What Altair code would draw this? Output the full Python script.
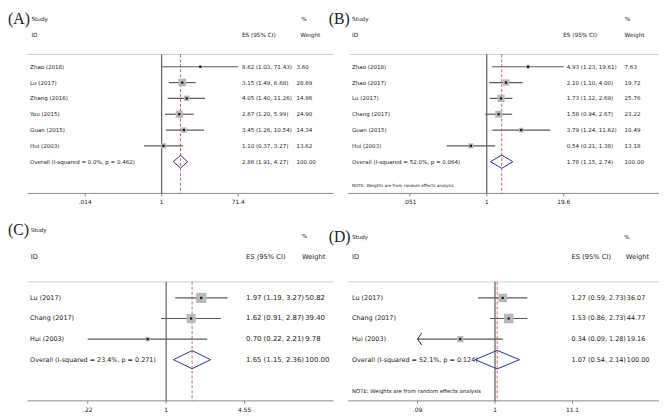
import math
import altair as alt
import pandas as pd

# ---------------- data ----------------
A_study = ["Zhao (2018)", "Lu (2017)", "Zhang (2016)", "You (2015)", "Guan (2015)", "Hui (2003)"]
A_es = [8.62, 3.15, 4.05, 2.67, 3.45, 1.10]
A_lo = [1.03, 1.49, 1.40, 1.20, 1.26, 0.37]
A_hi = [71.43, 6.68, 11.26, 5.99, 10.54, 3.27]
A_w = [3.60, 28.69, 14.86, 24.90, 14.34, 13.62]
A_overall = [2.86, 1.91, 4.27]
A_het = "Overall  (I-squared = 0.0%, p = 0.462)"
A_ticks = [0.014, 1, 71.4]
A_tick_labels = [".014", "1", "71.4"]
A_truncated = []

B_study = ["Zhao (2018)", "Zhao (2017)", "Lu (2017)", "Chang (2017)", "Guan (2015)", "Hui (2003)"]
B_es = [4.93, 2.10, 1.73, 1.58, 3.79, 0.54]
B_lo = [1.23, 1.10, 1.12, 0.94, 1.24, 0.21]
B_hi = [19.61, 4.00, 2.69, 2.67, 11.62, 1.38]
B_w = [7.63, 19.72, 25.76, 23.22, 10.49, 13.18]
B_overall = [1.78, 1.15, 2.74]
B_het = "Overall  (I-squared = 52.0%, p = 0.064)"
B_ticks = [0.051, 1, 19.6]
B_tick_labels = [".051", "1", "19.6"]
B_truncated = []

C_study = ["Lu (2017)", "Chang (2017)", "Hui (2003)"]
C_es = [1.97, 1.62, 0.70]
C_lo = [1.19, 0.91, 0.22]
C_hi = [3.27, 2.87, 2.21]
C_w = [50.82, 39.40, 9.78]
C_overall = [1.65, 1.15, 2.36]
C_het = "Overall  (I-squared = 23.4%, p = 0.271)"
C_ticks = [0.22, 1, 4.55]
C_tick_labels = [".22", "1", "4.55"]
C_truncated = []

D_study = ["Lu (2017)", "Chang (2017)", "Hui (2003)"]
D_es = [1.27, 1.53, 0.34]
D_lo = [0.59, 0.86, 0.09]
D_hi = [2.73, 2.73, 1.28]
D_w = [36.07, 44.77, 19.16]
D_overall = [1.07, 0.54, 2.14]
D_het = "Overall  (I-squared = 52.1%, p = 0.124)"
D_ticks = [0.09, 1, 11.1]
D_tick_labels = [".09", "1", "11.1"]
D_truncated = ["Hui (2003)"]   # CI runs past the lower axis limit (drawn with an arrow)

NOTE = "NOTE: Weights are from random effects analysis"

# ---------------- layout / style ----------------
SX, SY = 0.988, 0.978
SANS = "DejaVu Sans"
SERIF = "Liberation Serif"
TXT = "#222222"


def px(v):
    return round(v * SX, 2)


def py(v):
    return round(v * SY, 2)


LA = dict(tag="(A)", tag_x=0, tag_y=8, study_x=24, study_y=7.7, pct_x=301, pct_y=7.7,
          id_x=24, hdr_y=24, es_x=240, wt_x=300, sep_x=20, sep_y=44.3, axis_x=20, axis_y=188.3,
          tick_y=197, x_lo=79.2, x_hi=236.2, row0=57, drow=16.4, lab_x=22.7, val_x=240, wval_x=296,
          note_x=None, note_y=None, fs_lab=5.6, fs_val=5.6, fs_hdr=5.8, fs_top=5.8, fs_note=4.25,
          fs_tick=5.9, box_k=2.1, dia_h=0.40, ph=210)
LB = dict(tag="(B)", tag_x=-5, tag_y=8, study_x=19, study_y=7.7, pct_x=299, pct_y=7.7,
          id_x=19, hdr_y=24, es_x=235.7, wt_x=298.7, sep_x=17, sep_y=44.3, axis_x=15, axis_y=188.3,
          tick_y=197, x_lo=78.4, x_hi=236.2, row0=57, drow=16.4, lab_x=19, val_x=239.3, wval_x=298.7,
          note_x=19, note_y=181, fs_lab=5.6, fs_val=5.6, fs_hdr=5.8, fs_top=5.8, fs_note=4.25,
          fs_tick=5.9, box_k=1.0, dia_h=0.42, ph=210)
LC = dict(tag="(C)", tag_x=0, tag_y=15.7, study_x=23.3, study_y=15.7, pct_x=301.7, pct_y=21.7,
          id_x=23.3, hdr_y=43.3, es_x=244.3, wt_x=301.7, sep_x=20, sep_y=69.3, axis_x=20, axis_y=192.7,
          tick_y=201.7, x_lo=81.8, x_hi=242.8, row0=86, drow=21.33, lab_x=22.7, val_x=244.3, wval_x=305,
          note_x=None, note_y=None, fs_lab=6.5, fs_val=7.0, fs_hdr=6.8, fs_top=5.6, fs_note=5.4,
          fs_tick=6.0, box_k=0.55, dia_h=0.44, ph=206)
LD = dict(tag="(D)", tag_x=-5, tag_y=23.3, study_x=19, study_y=23.3, pct_x=298.3, pct_y=23.3,
          id_x=19, hdr_y=43.3, es_x=244.3, wt_x=300, sep_x=15, sep_y=69.3, axis_x=15, axis_y=192.7,
          tick_y=201.7, x_lo=86.2, x_hi=245.2, row0=86, drow=21.33, lab_x=19, val_x=244.3, wval_x=301,
          note_x=19, note_y=182.7, fs_lab=6.5, fs_val=6.55, fs_hdr=6.8, fs_top=5.6, fs_note=5.4,
          fs_tick=6.0, box_k=0.33, dia_h=0.45, ph=206)

ONE = pd.DataFrame({"k": [0]})


def txt(s, x, y, size, font=SANS, align="left"):
    return alt.Chart(pd.DataFrame({"t": [s]})).mark_text(
        align=align, baseline="middle", fontSize=size, font=font, color=TXT
    ).encode(x=alt.value(px(x)), y=alt.value(py(y)), text="t:N")


def hrule(x0, x1, y, color):
    return alt.Chart(ONE).mark_rule(color=color, strokeWidth=1).encode(
        x=alt.value(px(x0)), x2=alt.value(px(x1)), y=alt.value(py(y)))


def panel(study, es, lo, hi, w, overall, het, ticks, tick_labels, truncated, note, L):
    n = len(study)
    W = px(334)
    H = py(L["ph"])
    # log-x domain so that the end ticks land on the wanted pixels of a [0, W] range
    p0, p1 = px(L["x_lo"]), px(L["x_hi"])
    l0, l1 = math.log(ticks[0]), math.log(ticks[-1])
    k = (l1 - l0) / (p1 - p0)
    xs = alt.Scale(type="log", domain=[math.exp(l0 - p0 * k), math.exp(l1 + (W - p1) * k)], nice=False)
    # row index -> pixel, top to bottom
    r0, dr = py(L["row0"]), py(L["drow"])
    ys = alt.Scale(domain=[-r0 / dr, (H - r0) / dr], reverse=True, nice=False, zero=False)

    def X(f):
        return alt.X(f, type="quantitative", scale=xs, axis=None)

    Y = alt.Y("row:Q", scale=ys, axis=None)

    st = pd.DataFrame({"row": list(range(n)), "study": study, "es": es, "lo": lo, "hi": hi, "w": w})
    rows = pd.DataFrame({
        "row": list(range(n + 1)),
        "label": study + [het],
        "val": [f"{e:.2f} ({a:.2f}, {b:.2f})" for e, a, b in zip(es + [overall[0]], lo + [overall[1]], hi + [overall[2]])],
        "wt": [f"{v:.2f}" for v in w] + ["100.00"],
    })
    tk = pd.DataFrame({"t": ticks, "lab": tick_labels})
    ov = pd.DataFrame({"es": [overall[0]]})
    h = L["dia_h"]
    dia = pd.DataFrame({
        "x": [overall[1], overall[0], overall[2], overall[0], overall[1]],
        "row": [n, n - h, n, n + h, n],
        "i": list(range(5)),
    })

    layers = [
        hrule(L["sep_x"], 334, L["sep_y"], "#d0d0d0"),
        hrule(L["axis_x"], 334, L["axis_y"], "#8a8a8a"),
        alt.Chart(tk).mark_rule(color="#8a8a8a", strokeWidth=1).encode(
            x=X("t"), y=alt.value(py(L["axis_y"])), y2=alt.value(py(L["axis_y"]) + 3)),
        alt.Chart(tk).mark_text(fontSize=L["fs_tick"], font=SANS, color=TXT, baseline="middle").encode(
            x=X("t"), y=alt.value(py(L["tick_y"])), text="lab:N"),
        alt.Chart(pd.DataFrame({"v": [1]})).mark_rule(color="#3a3a3a", strokeWidth=1).encode(
            x=X("v"), y=alt.value(py(L["sep_y"])), y2=alt.value(py(L["axis_y"]))),
        alt.Chart(ov).mark_rule(color="#cc3b3b", strokeWidth=0.8, strokeDash=[3, 2]).encode(
            x=X("es"), y=alt.value(py(L["sep_y"])), y2=alt.value(py(L["axis_y"]))),
        alt.Chart(st).mark_rule(color="#5a5a5a", strokeWidth=1.2).encode(
            x=X("lo"), x2=alt.X2("hi"), y=Y),
        alt.Chart(st).mark_square(color="#b8b8b8", opacity=1).encode(
            x=X("es"), y=Y,
            size=alt.Size("w:Q", scale=alt.Scale(domain=[0, 100], range=[0, L["box_k"] * 100]), legend=None)),
        alt.Chart(st).mark_square(color="#111111", size=5, opacity=1).encode(x=X("es"), y=Y),
        alt.Chart(dia).mark_line(color="#27318b", strokeWidth=1).encode(
            x=X("x"), y=Y, order="i:Q"),
        alt.Chart(rows).mark_text(align="left", baseline="middle", fontSize=L["fs_lab"], font=SANS, color=TXT).encode(
            x=alt.value(px(L["lab_x"])), y=Y, text="label:N"),
        alt.Chart(rows).mark_text(align="left", baseline="middle", fontSize=L["fs_val"], font=SANS, color=TXT).encode(
            x=alt.value(px(L["val_x"])), y=Y, text="val:N"),
        alt.Chart(rows).mark_text(align="left", baseline="middle", fontSize=L["fs_val"], font=SANS, color=TXT).encode(
            x=alt.value(px(L["wval_x"])), y=Y, text="wt:N"),
        txt(L["tag"], L["tag_x"], L["tag_y"], 16, font=SERIF),
        txt("Study", L["study_x"], L["study_y"], L["fs_top"]),
        txt("%", L["pct_x"], L["pct_y"], L["fs_top"]),
        txt("ID", L["id_x"], L["hdr_y"], L["fs_hdr"]),
        txt("ES (95% CI)", L["es_x"], L["hdr_y"], L["fs_hdr"]),
        txt("Weight", L["wt_x"], L["hdr_y"], L["fs_hdr"]),
    ]
    arrows = st[st["study"].isin(truncated)]
    if len(arrows):
        layers.append(alt.Chart(arrows).mark_point(
            shape="M 0.7 -1 L 0 0 L 0.7 1", filled=False, size=144, color="#222222",
            strokeWidth=1, opacity=1).encode(x=X("lo"), y=Y))
    if note:
        layers.append(txt(note, L["note_x"], L["note_y"], L["fs_note"]))
    return alt.layer(*layers).properties(width=W, height=H)


pA = panel(A_study, A_es, A_lo, A_hi, A_w, A_overall, A_het, A_ticks, A_tick_labels, A_truncated, None, LA)
pB = panel(B_study, B_es, B_lo, B_hi, B_w, B_overall, B_het, B_ticks, B_tick_labels, B_truncated, NOTE, LB)
pC = panel(C_study, C_es, C_lo, C_hi, C_w, C_overall, C_het, C_ticks, C_tick_labels, C_truncated, None, LC)
pD = panel(D_study, D_es, D_lo, D_hi, D_w, D_overall, D_het, D_ticks, D_tick_labels, D_truncated, NOTE, LD)

chart = alt.concat(
    pA, pB, pC, pD, columns=2, spacing=0, bounds="flush",
).properties(padding=0, background="white").configure_view(stroke=None)

chart.save("out.html", embed_options={"renderer": "svg", "actions": False})
